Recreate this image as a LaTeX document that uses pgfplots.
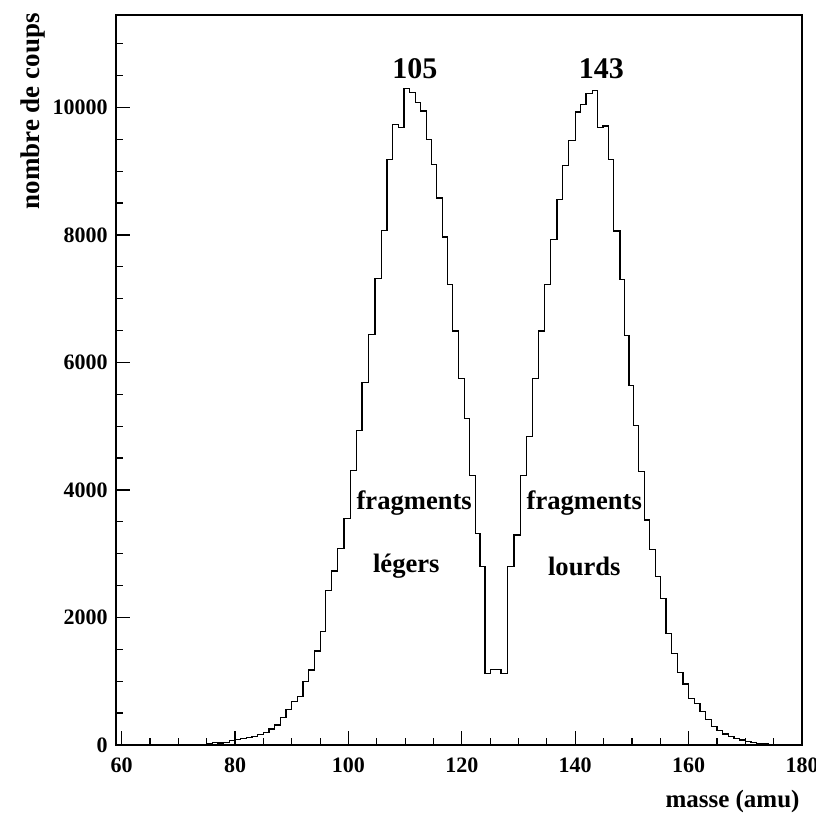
\documentclass[border=0pt]{standalone}
\usepackage{fontspec}
\setmainfont{Liberation Serif}
\usepackage{pgfplots}
\pgfplotsset{compat=1.18}
\usepackage{pgfplotstable}
\pgfplotstableread{
x y
59 0
73 5
74 10
75 20
76 40
77 30
78 40
79 68
80 89
81 105
82 120
83 136
84 162
85 198
86 251
87 313
88 428
89 559
90 679
91 757
92 992
93 1175
94 1473
95 1776
96 2420
97 2730
98 3083
99.2 3553
100.3 4310
101.4 4937
102.4 5679
103.5 6440
104.7 7315
105.8 8072
106.8 9180
107.8 9733
108.8 9691
109.8 10293
110.7 10230
111.8 10083
112.7 9942
113.7 9498
114.7 9106
115.6 8578
116.6 7967
117.5 7226
118.4 6494
119.4 5748
120.4 5120
121.4 4232
122.4 3318
123.2 2795
124.1 1123
125.0 1190
126.9 1123
128.0 2795
129.2 3292
130.3 4222
131.4 4833
132.5 5748
133.5 6494
134.6 7221
135.7 7931
136.8 8553
137.8 9091
138.8 9483
140.0 9927
140.9 10042
141.9 10214
143.0 10266
143.9 9681
144.9 9707
145.9 9180
146.8 8061
147.9 7299
148.7 6426
149.5 5643
150.3 5016
151.2 4284
152.2 3527
153.1 3067
154.1 2638
155.1 2299
156 1750
157 1437
158 1133
159 956
160 731
161 653
162 522
163 402
164 287
165 224
166 172
167 130
168 99
169 78
170 52
171 35
172 26
173 14
174 10
175 5
176 3
177 0
180 0
}\hist

\begin{document}
\begin{tikzpicture}
\begin{axis}[
  scale only axis, width=343pt, height=365pt,
  xmin=59, xmax=180, ymin=0, ymax=11450,
  axis line style={line width=1pt},
  xtick={60,80,...,180}, minor x tick num=3,
  ytick={0,2000,...,12000}, minor y tick num=3,
  tick align=inside, xtick pos=bottom, ytick pos=left,
  major tick length=7pt, minor tick length=3.5pt,
  every tick/.style={black, line width=0.6pt},
  ticklabel style={font=\fontsize{11}{13}\selectfont\bfseries},
  yticklabel style={inner sep=0pt, xshift=-4pt},
  xticklabel style={yshift=-3pt},
  /pgf/number format/assume math mode=true,
  /pgf/number format/set thousands separator={},
  scaled y ticks=false,
  clip=false,
]
\addplot[const plot, black, line width=0.6pt] table[x=x, y=y] {\hist};
\node[font=\fontsize{15}{17}\selectfont\bfseries] at (axis cs:111.7,10611) {105};
\node[font=\fontsize{15}{17}\selectfont\bfseries] at (axis cs:144.6,10611) {143};
\node[font=\fontsize{13.3}{15}\selectfont\bfseries] at (axis cs:111.6,3793) {fragments};
\node[font=\fontsize{13.3}{15}\selectfont\bfseries] at (axis cs:110.2,2810) {légers};
\node[font=\fontsize{13.3}{15}\selectfont\bfseries] at (axis cs:141.6,3793) {fragments};
\node[font=\fontsize{13.3}{15}\selectfont\bfseries] at (axis cs:141.6,2795) {lourds};
\node[font=\fontsize{13.5}{15}\selectfont\bfseries, rotate=90, inner sep=0pt] at (axis description cs:-0.1203,0.868) {nombre de coups};
\node[font=\fontsize{12.5}{14}\selectfont\bfseries, anchor=east, inner sep=0pt] at (axis description cs:0.997,-0.077) {masse (amu)};
\coordinate (bbA) at (axis description cs:-0.1691,-0.0932);
\coordinate (bbB) at (axis description cs:1.0204,1.0205);
\end{axis}
\pgfresetboundingbox
\path[use as bounding box] (bbA) rectangle (bbB);
\end{tikzpicture}
\end{document}
